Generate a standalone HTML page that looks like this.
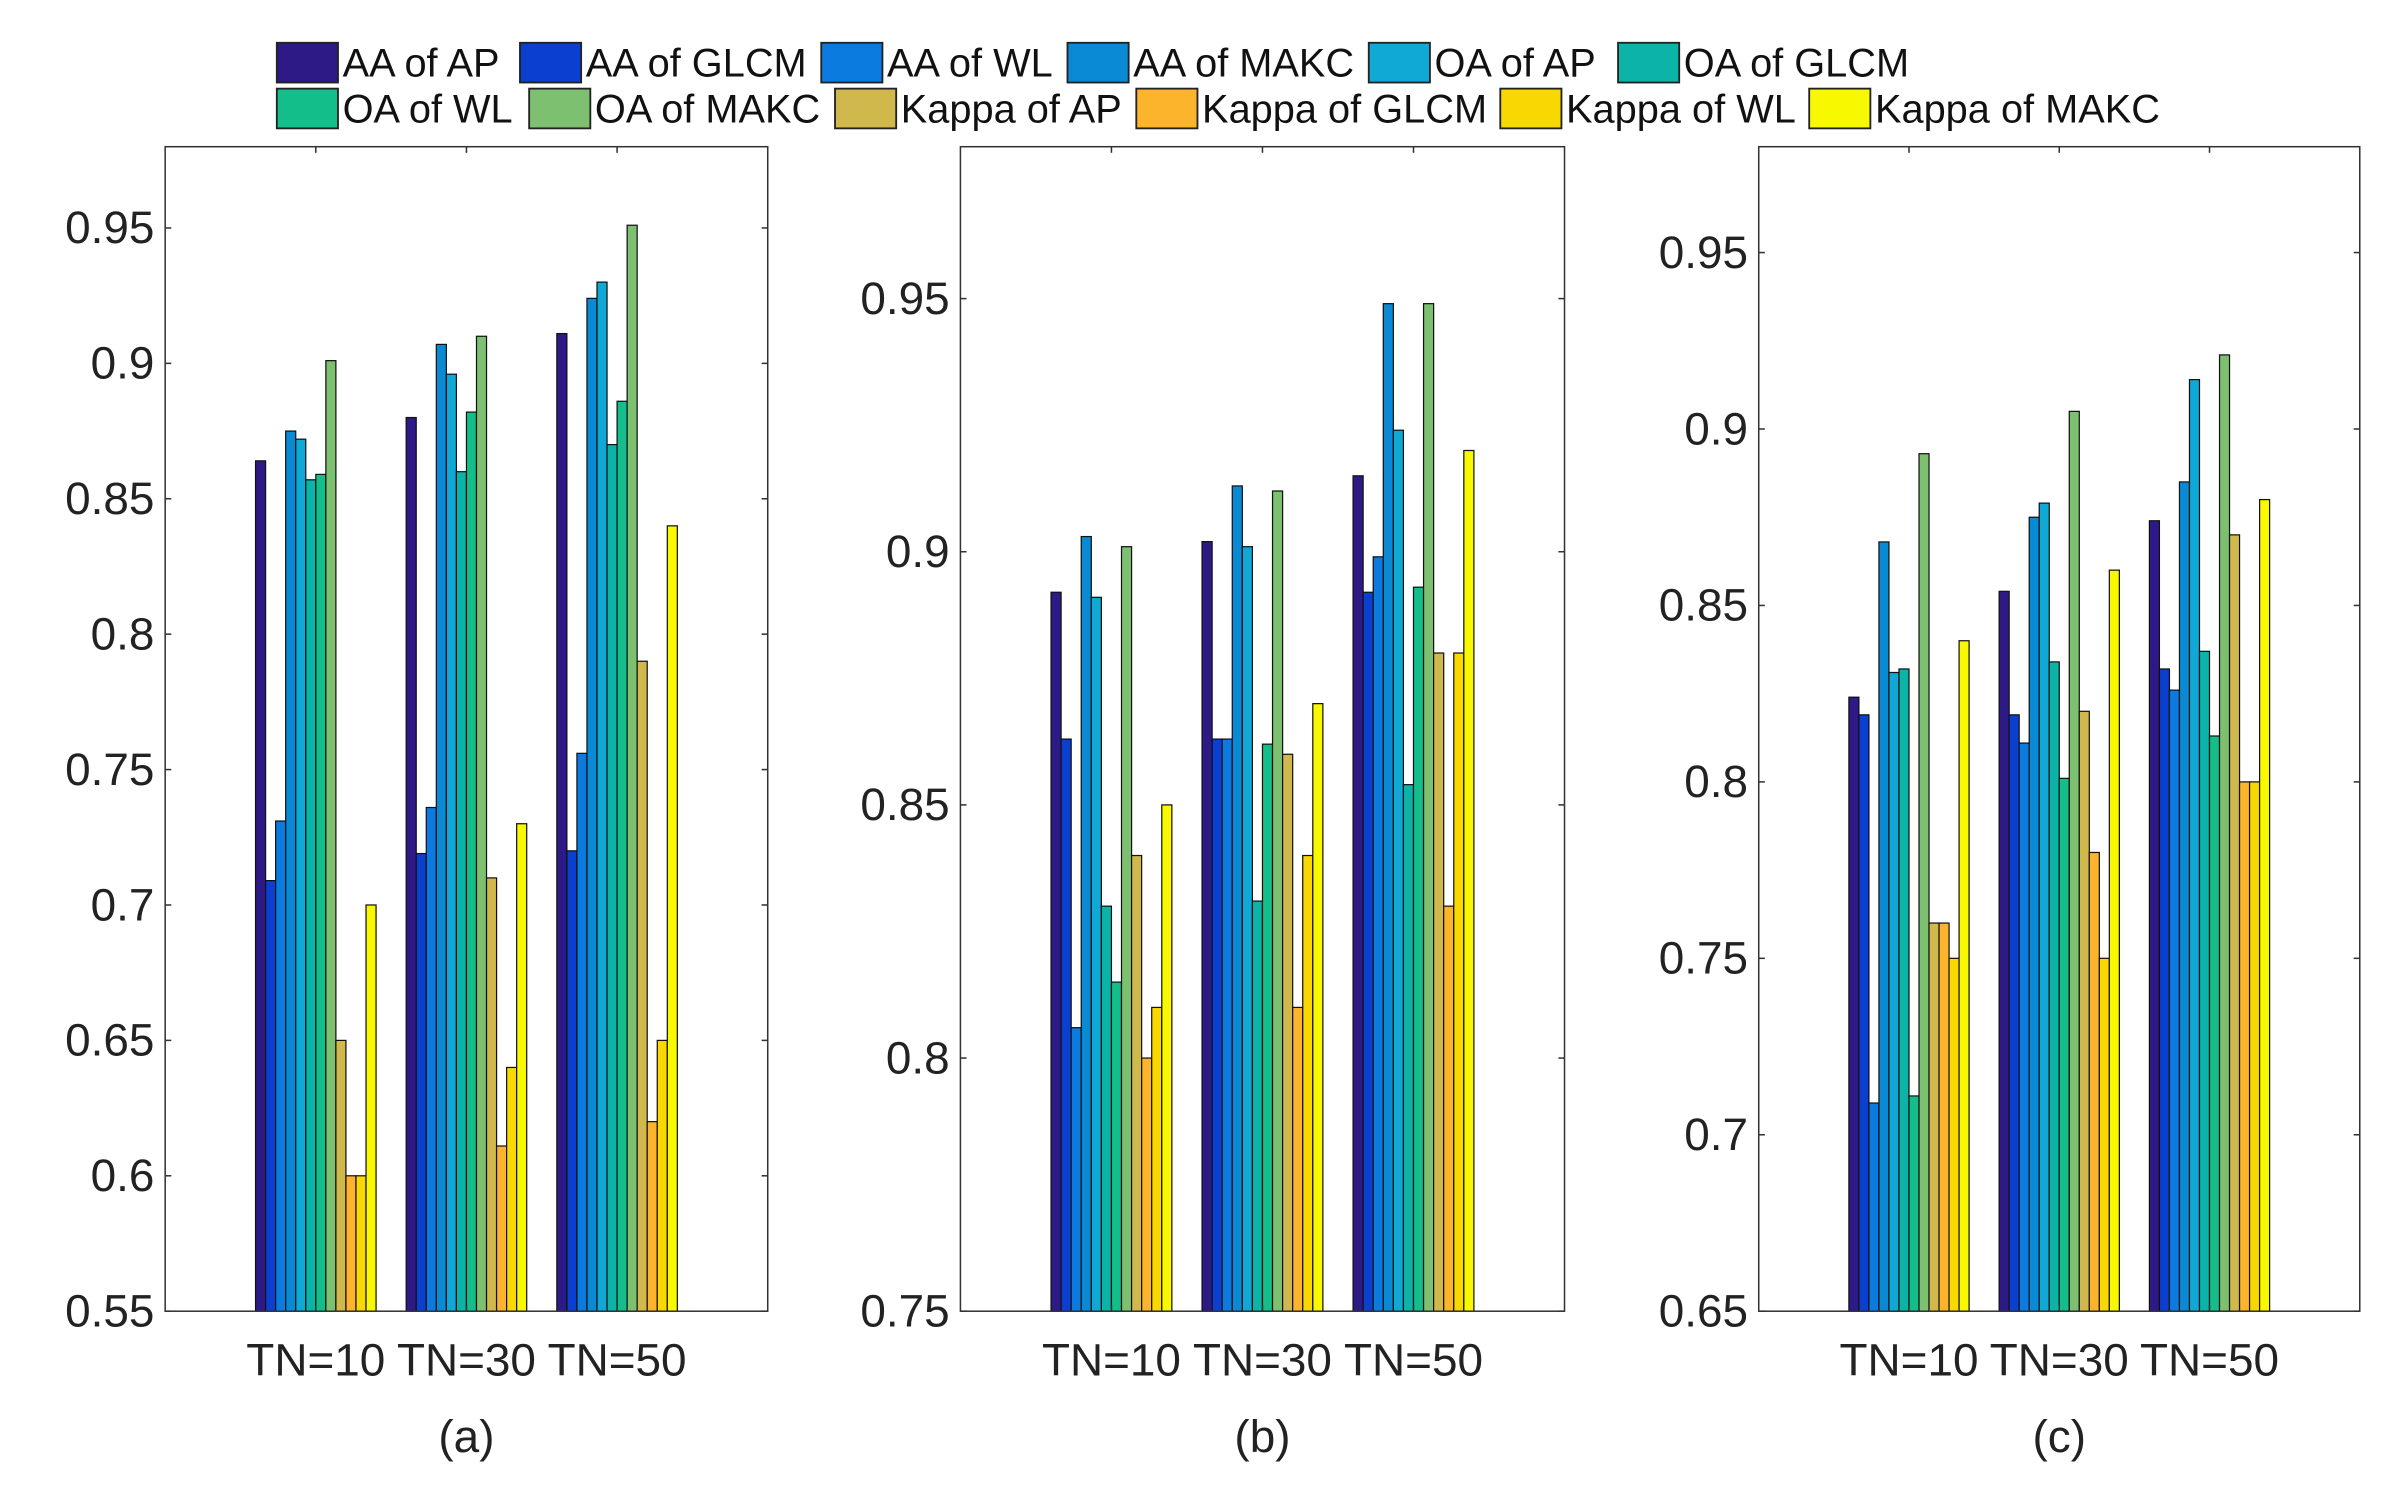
<!DOCTYPE html>
<html><head><meta charset="utf-8"><style>
html,body{margin:0;padding:0;background:#fff;}
svg{display:block;font-family:"Liberation Sans",sans-serif;}
</style></head><body>
<svg id="chart" width="2398" height="1490" viewBox="0 0 1568 975" preserveAspectRatio="none" xmlns="http://www.w3.org/2000/svg">
<g id="legend"></g>
<g id="panels"></g>
</svg>
<script>
const categories = ["TN=10","TN=30","TN=50"];
const seriesNames = ["AA of AP","AA of GLCM","AA of WL","AA of MAKC","OA of AP","OA of GLCM","OA of WL","OA of MAKC","Kappa of AP","Kappa of GLCM","Kappa of WL","Kappa of MAKC"];
const seriesColors = ["#2e1a87","#0a3fd0","#0c7be0","#0a8ad4","#10a8d4","#0cb4a8","#14be8a","#7cc070","#d0b84c","#fcb42c","#f8d800","#f8f800"];
const panelA = [
 [0.864,0.709,0.731,0.875,0.872,0.857,0.859,0.901,0.650,0.600,0.600,0.700],
 [0.880,0.719,0.736,0.907,0.896,0.860,0.882,0.910,0.710,0.611,0.640,0.730],
 [0.911,0.720,0.756,0.924,0.930,0.870,0.886,0.951,0.790,0.620,0.650,0.840]];
const panelB = [
 [0.892,0.863,0.806,0.903,0.891,0.830,0.815,0.901,0.840,0.800,0.810,0.850],
 [0.902,0.863,0.863,0.913,0.901,0.831,0.862,0.912,0.860,0.810,0.840,0.870],
 [0.915,0.892,0.899,0.949,0.924,0.854,0.893,0.949,0.880,0.830,0.880,0.920]];
const panelC = [
 [0.824,0.819,0.709,0.868,0.831,0.832,0.711,0.893,0.760,0.760,0.750,0.840],
 [0.854,0.819,0.811,0.875,0.879,0.834,0.801,0.905,0.820,0.780,0.750,0.860],
 [0.874,0.832,0.826,0.885,0.914,0.837,0.813,0.921,0.870,0.800,0.800,0.880]];
const ticksA = ["0.55","0.6","0.65","0.7","0.75","0.8","0.85","0.9","0.95"];
const ticksB = ["0.75","0.8","0.85","0.9","0.95"];
const ticksC = ["0.65","0.7","0.75","0.8","0.85","0.9","0.95"];
const panelLabels = ["(a)","(b)","(c)"];

const NS="http://www.w3.org/2000/svg";
function mk(tag,attrs,parent){const e=document.createElementNS(NS,tag);for(const k in attrs)e.setAttribute(k,attrs[k]);parent.appendChild(e);return e;}

const panels=[
 {data:panelA,ticks:ticksA,ymin:0.55,ymax:0.98,x0:108,x1:502},
 {data:panelB,ticks:ticksB,ymin:0.75,ymax:0.98,x0:628,x1:1023},
 {data:panelC,ticks:ticksC,ymin:0.65,ymax:0.98,x0:1150,x1:1543}];
const Y0=858,Y1=96;
const root=document.getElementById('panels');
panels.forEach((p,pi)=>{
  const g=mk('g',{},root);
  
  
  const xs=v=>p.x0+(v/4)*(p.x1-p.x0);
  const ys=v=>Y0-(v-p.ymin)/(p.ymax-p.ymin)*(Y0-Y1);
  const bw=0.8/12;
  p.data.forEach((grp,ci)=>{
    grp.forEach((v,si)=>{
      const xl=xs(ci+1-0.4+si*bw);
      const r=mk('rect',{x:xl,y:ys(v),width:xs(bw)-xs(0),height:Y0-ys(v),fill:seriesColors[si],stroke:'#111','stroke-width':0.8},g);
      
      
    });
  });
  const box=mk('rect',{x:p.x0,y:Y1,width:p.x1-p.x0,height:Y0-Y1,fill:'none',stroke:'#333','stroke-width':1},g);
  
  
  p.ticks.forEach(t=>{
    const y=ys(parseFloat(t));
    mk('line',{x1:p.x0,x2:p.x0+4,y1:y,y2:y,stroke:'#333','stroke-width':1},g);
    mk('line',{x1:p.x1,x2:p.x1-4,y1:y,y2:y,stroke:'#333','stroke-width':1},g);
    const tx=mk('text',{x:p.x0-7,y:y+10,'text-anchor':'end','font-size':30,fill:'#222'},g);
    tx.textContent=t;
    
    
  });
  categories.forEach((c,ci)=>{
    const x=xs(ci+1);
    mk('line',{x1:x,x2:x,y1:Y0,y2:Y0-4,stroke:'#333','stroke-width':1},g);
    mk('line',{x1:x,x2:x,y1:Y1,y2:Y1+4,stroke:'#333','stroke-width':1},g);
    const tx=mk('text',{x:x,y:900,'text-anchor':'middle','font-size':30,fill:'#222'},g);
    tx.textContent=c;
    
    
  });
  const pl=mk('text',{x:(p.x0+p.x1)/2,y:950,'text-anchor':'middle','font-size':30,fill:'#222'},g);
  pl.textContent=panelLabels[pi];
  
  
});
// legend
const lg=document.getElementById('legend');
const row1x=[181,340,537,698,895,1058];
const row2x=[181,346,546,743,981,1183];
seriesNames.forEach((n,i)=>{
  const row=i<6?0:1;
  const x=row===0?row1x[i]:row2x[i-6];
  const y=row===0?28:58;
  const e=mk('g',{},lg);
  
  
  mk('rect',{x:x,y:y,width:40,height:26,fill:seriesColors[i],stroke:'#222','stroke-width':1.2},e);
  const t=mk('text',{x:x+43,y:y+22,'font-size':26,fill:'#111'},e);
  t.textContent=n;
});
</script>
</body></html>
